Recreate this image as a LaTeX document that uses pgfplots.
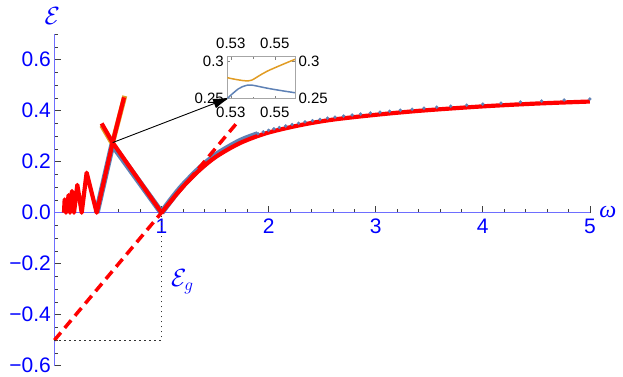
\documentclass[border=0pt]{standalone}
\usepackage{fontspec}
\setmainfont{Liberation Sans}
\newfontfamily\serifit{Liberation Serif}
\usepackage{pgfplots}
\pgfplotsset{compat=1.18}
\usetikzlibrary{arrows.meta}
\definecolor{mblue}{RGB}{94,129,181}
\definecolor{morange}{RGB}{225,156,36}
\definecolor{axblue}{RGB}{110,110,255}

\begin{document}
\begin{tikzpicture}
\begin{axis}[
  x=107.1pt, y=255pt,
  xmin=0, xmax=5, ymin=-0.6, ymax=0.7,
  axis x line=middle, axis y line=left,
  axis line style={axblue, line width=1.1pt, -},
  xtick={1,2,3,4,5}, xticklabels={1,2,3,4,5},
  minor xtick={0.2,0.4,0.6,0.8,1.2,1.4,1.6,1.8,2.2,2.4,2.6,2.8,3.2,3.4,3.6,3.8,4.2,4.4,4.6,4.8},
  ytick={-0.6,-0.4,-0.2,0,0.2,0.4,0.6},
  yticklabels={−0.6,−0.4,−0.2,0.0,0.2,0.4,0.6},
  minor ytick={-0.55,-0.5,-0.45,-0.35,-0.3,-0.25,-0.15,-0.1,-0.05,0.05,0.1,0.15,0.25,0.3,0.35,0.45,0.5,0.55,0.65,0.7},
  hide obscured y ticks=false,
  tick align=inside,
  major tick length=7pt, minor tick length=4pt,
  tick style={black!75, line width=0.7pt},
  ticklabel style={font=\fontsize{21}{24}\selectfont, text=blue},
  xticklabel style={yshift=-3pt},
  clip=false,
]
% exact lower branch (blue)
\addplot[mblue, line width=6pt, line join=round] coordinates {(0.395,0) (0.541,0.267) (1,0)};
\addplot[mblue, line width=6pt, smooth] coordinates {
  (1,0) (1.1,0.056) (1.2,0.107) (1.36,0.175) (1.515,0.228) (1.733,0.281) (1.9,0.308)};
\addplot[only marks, mark=*, mark size=1.5pt, mblue] coordinates {
  (1.90,0.310) (1.95,0.317) (2.00,0.323) (2.05,0.329) (2.10,0.334) (2.16,0.340)
  (2.22,0.346) (2.28,0.351) (2.34,0.356) (2.41,0.361) (2.48,0.366) (2.55,0.371)
  (2.62,0.375) (2.70,0.379) (2.78,0.383) (2.86,0.387) (2.95,0.391) (3.04,0.394)
  (3.13,0.398) (3.23,0.402) (3.34,0.406) (3.45,0.410) (3.57,0.414) (3.70,0.418)
  (3.85,0.422) (4.00,0.426) (4.17,0.430) (4.35,0.434) (4.55,0.438) (4.76,0.442)
  (5.00,0.446)};
% upper branch (orange)
\addplot[morange, line width=5pt, line join=round] coordinates {(0.442,0.342) (0.541,0.271) (0.657,0.458)};
% approximation (red)
\addplot[red, line width=4.2pt, line join=round] coordinates {
  (0.0896,0) (0.0959,0.052) (0.108,0) (0.133,0.069) (0.146,0) (0.164,0.085)
  (0.183,0) (0.214,0.109) (0.255,0) (0.301,0.157) (0.395,0) (0.544,0.275) (0.65,0.452)};
\addplot[red, line width=4.2pt, line join=round] coordinates {(0.441,0.350) (0.544,0.275) (1,0)};
\addplot[red, line width=4.2pt, smooth] coordinates {
  (1,0) (1.1,0.052) (1.2,0.102) (1.36,0.169) (1.515,0.221) (1.733,0.273) (1.98,0.312)
  (2.29,0.343) (2.6,0.365) (3.05,0.386) (3.45,0.401) (4.0,0.417) (4.5,0.428) (5.0,0.436)};
% tangent at omega = 1
\addplot[red, line width=3.5pt, dash pattern=on 10pt off 6pt] coordinates {(0,-0.5) (1.705,0.3525)};
\addplot[black!80, line width=1.1pt, dash pattern=on 1.5pt off 3.5pt] coordinates {(0,-0.5) (1,-0.5) (1,0)};

\node[text=blue, font=\fontsize{25}{28}\selectfont] at (axis cs:1.195,-0.27) {$\mathcal{E}_g$};
\node[text=blue, anchor=west, font=\serifit\itshape\fontsize{24}{26}\selectfont, xshift=6pt, yshift=1pt] at (axis cs:5,0) {ω};
\node[text=blue, anchor=south, font=\fontsize{25}{28}\selectfont, yshift=6pt, xshift=-2pt] at (axis cs:0,0.7) {$\mathcal{E}$};

\coordinate (LL) at (rel axis cs:0,0);
\coordinate (insetLL) at (axis cs:1.6144,0.4478);
\draw[black, line width=0.9pt, -{Latex[length=17pt, width=10pt]}] (axis cs:0.544,0.275) -- (axis cs:1.64,0.452);
\end{axis}

\begin{axis}[
  at={(insetLL)}, anchor=south west,
  scale only axis, width=67.7pt, height=41.8pt,
  xmin=0.5284, xmax=0.5592, ymin=0.25, ymax=0.3065,
  xtick={0.53,0.55}, xticklabels={0.53,0.55},
  ytick={0.25,0.3}, yticklabels={0.25,0.3},
  minor xtick={0.54},
  axis line style={gray!70, line width=0.6pt},
  tick style={gray, line width=0.5pt},
  major tick length=3pt, minor tick length=2pt,
  ticklabel style={font=\fontsize{15}{17}\selectfont},
  xticklabel style={yshift=-5pt},
]
\addplot[mblue, line width=1.5pt, smooth] coordinates {
  (0.527,0.246) (0.5284,0.2502) (0.5334,0.263) (0.5367,0.2674) (0.5394,0.2682)
  (0.5466,0.2639) (0.5533,0.2605) (0.5592,0.2578)};
\addplot[morange, line width=1.5pt, smooth] coordinates {
  (0.5284,0.2783) (0.5295,0.2774) (0.5334,0.2752) (0.5367,0.2739) (0.5394,0.2747)
  (0.5427,0.2804) (0.5466,0.2870) (0.5533,0.2957) (0.5592,0.3030)};
\end{axis}

\begin{axis}[
  at={(insetLL)}, anchor=south west,
  scale only axis, width=67.7pt, height=41.8pt,
  xmin=0.5284, xmax=0.5592, ymin=0.25, ymax=0.3065,
  xtick={0.53,0.55}, xticklabels={0.53,0.55},
  ytick={0.25,0.3}, yticklabels={0.25,0.3},
  xticklabel pos=right, yticklabel pos=right,
  axis line style={draw=none},
  major tick length=0pt, minor tick length=0pt,
  ticklabel style={font=\fontsize{15}{17}\selectfont},
  xticklabel style={yshift=5pt},
]
\end{axis}

\pgfresetboundingbox
\path (LL) ++(-54.4pt,-10.3pt) rectangle ++(623pt,376pt);
\end{tikzpicture}
\end{document}
